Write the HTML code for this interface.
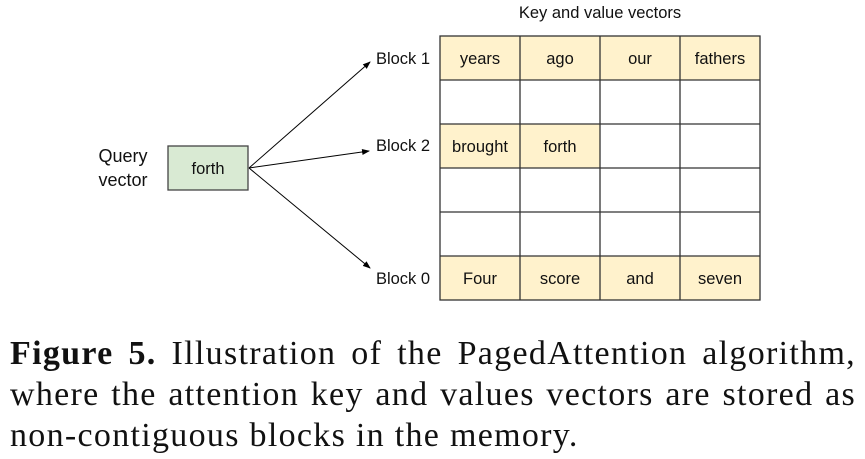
<!DOCTYPE html>
<html><head><meta charset="utf-8"><style>
body{margin:0;width:865px;height:459px;background:#fff;position:relative;overflow:hidden;font-family:"Liberation Sans",sans-serif}
.cap{position:absolute;left:10px;width:846px;font-family:"Liberation Serif",serif;font-size:34px;letter-spacing:1.3px;line-height:41px;color:#111;white-space:nowrap}
.j{text-align:justify;text-align-last:justify}
</style></head><body>
<svg width="865" height="320" style="position:absolute;left:0;top:0">
<defs><marker id="a" markerWidth="8" markerHeight="8" refX="7" refY="4" orient="auto"><path d="M0,1 L8,4 L0,7z" fill="#000"/></marker></defs>
<g fill="#fff2cc">
<rect x="440" y="36" width="320" height="44"/>
<rect x="440" y="124" width="160" height="44"/>
<rect x="440" y="256" width="320" height="44"/>
</g>
<g stroke="#333" stroke-width="1.3" fill="none">
<rect x="440" y="36" width="320" height="264"/>
<line x1="520" y1="36" x2="520" y2="300"/><line x1="600" y1="36" x2="600" y2="300"/><line x1="680" y1="36" x2="680" y2="300"/>
<line x1="440" y1="80" x2="760" y2="80"/><line x1="440" y1="124" x2="760" y2="124"/><line x1="440" y1="168" x2="760" y2="168"/><line x1="440" y1="212" x2="760" y2="212"/><line x1="440" y1="256" x2="760" y2="256"/>
</g>
<rect x="168" y="146" width="80" height="44" fill="#d9ead3" stroke="#444" stroke-width="1.3"/>
<g stroke="#000" stroke-width="1" marker-end="url(#a)">
<line x1="249" y1="168" x2="370" y2="62"/>
<line x1="249" y1="168" x2="369" y2="151"/>
<line x1="249" y1="168" x2="370" y2="268"/>
</g>
<g font-family="Liberation Sans,sans-serif" font-size="16.5" fill="#111" text-anchor="middle">
<text x="600" y="18">Key and value vectors</text>
<text x="480" y="64">years</text><text x="560" y="64">ago</text><text x="640" y="64">our</text><text x="720" y="64">fathers</text>
<text x="480" y="152">brought</text><text x="560" y="152">forth</text>
<text x="480" y="284">Four</text><text x="560" y="284">score</text><text x="640" y="284">and</text><text x="720" y="284">seven</text>
<text x="208" y="174">forth</text>
<text x="123" y="162" font-size="18">Query</text><text x="123" y="186" font-size="18">vector</text>
<text x="403" y="64">Block 1</text><text x="403" y="151">Block 2</text><text x="403" y="284">Block 0</text>
</g>
</svg>
<div class="cap j" style="top:333px"><b>Figure 5.</b> Illustration of the PagedAttention algorithm,</div>
<div class="cap j" style="top:374px">where the attention key and values vectors are stored as</div>
<div class="cap" style="top:415px">non-contiguous blocks in the memory.</div>
</body></html>
